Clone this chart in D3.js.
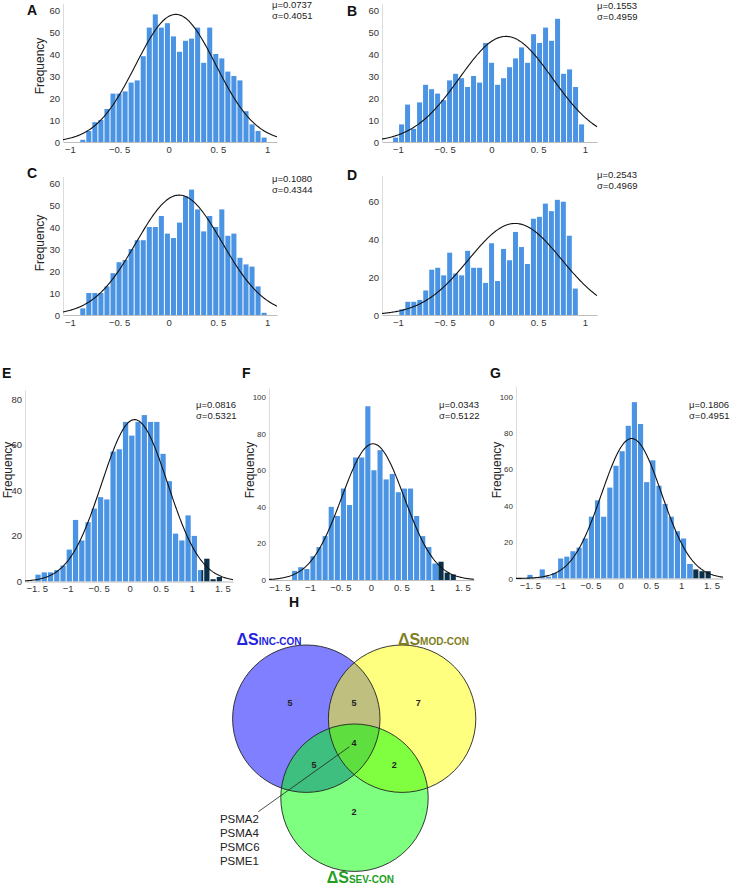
<!DOCTYPE html>
<html>
<head>
<meta charset="utf-8">
<script src="https://cdn.jsdelivr.net/npm/d3@7"></script>
<style>
  body { margin: 0; background: #fff; }
  text { font-family: "Liberation Sans", Arial, sans-serif; }
</style>
</head>
<body>
<div id="chart"></div>
<script>
// Histogram counts (one value per bin)
var countsA = [1,5,9,10,15,22,22,23,27,28,39,52,58,52,54,48,41,46,47,52,36,52,40,38,32,30,28,14,8,5,2];
var countsB = [2,8,17,6,18,26,24,22,19,28,31,29,25,30,27,45,36,26,29,34,38,43,36,49,45,52,46,56,31,33,25,8];
var countsC = [3,10,10,10,13,19,24,25,30,34,34,40,40,45,37,35,42,54,57,48,38,45,40,48,36,37,26,23,22,13,1];
var countsD = [3,7,7,8,13,24,25,21,33,22,21,34,25,25,17,38,18,35,29,44,36,27,51,52,59,55,61,60,42,14];
var countsE = [3,4,4,5,7,14,27,18,26,32,37,36,57,58,70,64,70,73,70,70,56,44,21,18,29,20,5,10,1,2];
var countsF = [5,7,6,13,18,24,40,35,50,41,67,67,95,60,71,55,58,48,50,50,35,24,18,9,10,4,3];
var countsG = [2,0,5,1,3,11,12,15,17,22,34,43,34,50,62,70,84,97,85,53,65,51,41,34,26,22,8,5,4,4];

// first bin edge and last bin edge for each panel
var rangeA = [-0.90, 1.00], rangeB = [-1.057, 0.997], rangeC = [-0.90, 1.00], rangeD = [-0.99, 0.93];
var rangeE = [-1.53, 1.50], rangeF = [-1.30, 1.40], rangeG = [-1.55, 1.495];

// fitted normal: mean, sd, peak height
var mu    = [0.0737, 0.1553, 0.1080, 0.2543, 0.0816, 0.0343, 0.1806];
var sigma = [0.4051, 0.4959, 0.4344, 0.4969, 0.5321, 0.5122, 0.4951];
var peak  = [58, 48, 54.5, 48.5, 71, 74.5, 77];

// bins above this value are highlighted
var thresholdE = 1.16, thresholdF = 1.10, thresholdG = 1.18;

// ticks
var xTicksSmall = [-1, -0.5, 0, 0.5, 1];
var xLabelsSmall = ["\u22121", "\u22120. 5", "0", "0. 5", "1"];
var xTicksWide = [-1.5, -1, -0.5, 0, 0.5, 1, 1.5];
var xLabelsWide = ["\u22121. 5", "\u22121", "\u22120. 5", "0", "0. 5", "1", "1. 5"];
var yTicks60 = [0, 10, 20, 30, 40, 50, 60];
var yTicksD = [0, 20, 40, 60];
var yTicksE = [0, 20, 40, 60, 80];
var yTicks100 = [0, 20, 40, 60, 80, 100];

// Venn
var vennCounts = [5, 5, 7, 4, 5, 2, 2];
var genes = ["PSMA2", "PSMA4", "PSMC6", "PSME1"];

var barColor = "#4b94e4", darkColor = "#0b3049";

var svg = d3.select("#chart").append("svg")
    .attr("width", 733)
    .attr("height", 885);

svg.append("rect").attr("width", 733).attr("height", 885).attr("fill", "#fff");

function drawHist(p) {
  var x = d3.scaleLinear().domain(p.xDomain).range([p.left, p.right]);
  var y = d3.scaleLinear().domain([0, p.yMax]).range([p.bottom, p.top]);
  var g = svg.append("g");
  var n = p.counts.length;
  var bw = (p.range[1] - p.range[0]) / n;
  var thr = p.threshold === undefined ? Infinity : p.threshold;

  p.counts.forEach(function(c, i) {
    if (c <= 0) return;
    var x0 = p.range[0] + i * bw, x1 = x0 + bw;
    if (x0 < thr) {
      g.append("rect")
        .attr("x", x(x0) + 0.5)
        .attr("y", y(c))
        .attr("width", Math.max(0, x(Math.min(x1, thr)) - x(x0) - (x1 <= thr ? 1 : 0)))
        .attr("height", y(0) - y(c))
        .attr("fill", barColor);
    }
    if (x1 > thr) {
      var s = Math.max(x0, thr);
      g.append("rect")
        .attr("x", x(s) + (s === x0 ? 0.5 : 0))
        .attr("y", y(c))
        .attr("width", x(x1) - x(s) - 1 + (s === x0 ? 0 : 0.5))
        .attr("height", y(0) - y(c))
        .attr("fill", darkColor);
    }
  });

  // x axis
  var xa = g.append("g")
      .attr("transform", "translate(0," + p.bottom + ")")
      .call(d3.axisBottom(x).tickValues(p.xTicks)
        .tickFormat(function(d, i) { return p.xLabels[i]; })
        .tickSize(0).tickPadding(4));
  xa.select(".domain").attr("stroke", "#bdbdbd");
  xa.selectAll("text").attr("fill", "#333").style("font-size", "9.5px");

  // y axis
  var ya = g.append("g")
      .attr("transform", "translate(" + p.left + ",0)")
      .call(d3.axisLeft(y).tickValues(p.yTicks).tickSize(0).tickPadding(3));
  ya.select(".domain").attr("stroke", "#dcdcdc");
  ya.selectAll("text").attr("fill", "#333").style("font-size", p.yFont || "9.5px");

  // normal curve
  var k = p.k;
  var pts = d3.range(0, 201).map(function(j) {
    return p.xDomain[0] + (p.xDomain[1] - p.xDomain[0]) * j / 200;
  });
  g.append("path")
    .datum(pts)
    .attr("fill", "none")
    .attr("stroke", "#111")
    .attr("stroke-width", 1.1)
    .attr("d", d3.line()
      .x(function(d) { return x(d); })
      .y(function(d) { return y(peak[k] * Math.exp(-Math.pow(d - mu[k], 2) / (2 * sigma[k] * sigma[k]))); }));

  // mu / sigma
  g.append("text").attr("x", p.statX).attr("y", p.statY - 1)
    .style("font-size", "9.5px").attr("fill", "#222")
    .text("\u03bc=" + mu[k].toFixed(4));
  g.append("text").attr("x", p.statX).attr("y", p.statY + 9.5)
    .style("font-size", "9.5px").attr("fill", "#222")
    .text("\u03c3=" + sigma[k].toFixed(4));

  // panel letter
  g.append("text").attr("x", p.letterX).attr("y", p.letterY)
    .style("font-size", "14px").style("font-weight", "bold").attr("fill", "#111")
    .text(p.letter);

  if (p.freqX !== undefined) {
    g.append("text")
      .attr("transform", "translate(" + p.freqX + "," + p.freqY + ") rotate(-90)")
      .attr("text-anchor", "middle")
      .attr("dominant-baseline", "central")
      .style("font-size", "12px").attr("fill", "#222")
      .text("Frequency");
  }
}

drawHist({k: 0, letter: "A", letterX: 27, letterY: 15, counts: countsA, range: rangeA,
  xDomain: [-1.07, 1.10], left: 63, right: 277, bottom: 142, top: 3.4, yMax: 63,
  xTicks: xTicksSmall, xLabels: xLabelsSmall, yTicks: yTicks60,
  statX: 272, statY: 9, freqX: 40, freqY: 66});
drawHist({k: 1, letter: "B", letterX: 347, letterY: 16, counts: countsB, range: rangeB,
  xDomain: [-1.17, 1.13], left: 382, right: 597, bottom: 142, top: 3.4, yMax: 63,
  xTicks: xTicksSmall, xLabels: xLabelsSmall, yTicks: yTicks60,
  statX: 597, statY: 10});
drawHist({k: 2, letter: "C", letterX: 27, letterY: 178, counts: countsC, range: rangeC,
  xDomain: [-1.07, 1.10], left: 63, right: 277, bottom: 315, top: 176.4, yMax: 63,
  xTicks: xTicksSmall, xLabels: xLabelsSmall, yTicks: yTicks60,
  statX: 272, statY: 183, freqX: 40, freqY: 243});
drawHist({k: 3, letter: "D", letterX: 347, letterY: 180, counts: countsD, range: rangeD,
  xDomain: [-1.17, 1.13], left: 382, right: 597, bottom: 315, top: 175.3, yMax: 74,
  xTicks: xTicksSmall, xLabels: xLabelsSmall, yTicks: yTicksD,
  statX: 597, statY: 179});
drawHist({k: 4, letter: "E", letterX: 2, letterY: 378, counts: countsE, range: rangeE, threshold: thresholdE,
  xDomain: [-1.69, 1.67], left: 25, right: 233, bottom: 581.5, top: 390, yMax: 84,
  xTicks: xTicksWide, xLabels: xLabelsWide, yTicks: yTicksE,
  statX: 196, statY: 409, freqX: 8, freqY: 470});
drawHist({k: 5, letter: "F", letterX: 242, letterY: 378, counts: countsF, range: rangeF, threshold: thresholdF,
  xDomain: [-1.67, 1.69], left: 269, right: 474, bottom: 580, top: 388, yMax: 105,
  xTicks: xTicksWide, xLabels: xLabelsWide, yTicks: yTicks100, yFont: "8px",
  statX: 439, statY: 409, freqX: 250, freqY: 470});
drawHist({k: 6, letter: "G", letterX: 490, letterY: 378, counts: countsG, range: rangeG, threshold: thresholdG,
  xDomain: [-1.73, 1.69], left: 516, right: 723, bottom: 578.5, top: 386.7, yMax: 105.5,
  xTicks: xTicksWide, xLabels: xLabelsWide, yTicks: yTicks100, yFont: "8px",
  statX: 689, statY: 409, freqX: 497, freqY: 470});

// ---- Venn diagram (unit = circle radius) ----
var R = 73.7;
var vx = d3.scaleLinear().domain([0, 1]).range([306.3, 306.3 + R]);
var vy = d3.scaleLinear().domain([0, 1]).range([718.7, 718.7 + R]);

var circles = [
  {cx: 0, cy: 0, fill: "#0000ff"},
  {cx: 1.30, cy: 0, fill: "#ffff00"},
  {cx: 0.654, cy: 1.072, fill: "#00ff00"}
];
var vg = svg.append("g");
vg.selectAll("circle.fill").data(circles).enter().append("circle")
  .attr("cx", function(d) { return vx(d.cx); })
  .attr("cy", function(d) { return vy(d.cy); })
  .attr("r", R)
  .attr("fill", function(d) { return d.fill; })
  .attr("fill-opacity", 0.5);
vg.selectAll("circle.edge").data(circles).enter().append("circle")
  .attr("cx", function(d) { return vx(d.cx); })
  .attr("cy", function(d) { return vy(d.cy); })
  .attr("r", R)
  .attr("fill", "none")
  .attr("stroke", "#222")
  .attr("stroke-width", 0.9);

var countPos = [[-0.22, -0.21], [0.647, -0.21], [1.52, -0.21], [0.647, 0.334], [0.104, 0.628], [1.194, 0.628], [0.647, 1.27]];
vg.selectAll("text.count").data(vennCounts).enter().append("text")
  .attr("x", function(d, i) { return vx(countPos[i][0]); })
  .attr("y", function(d, i) { return vy(countPos[i][1]); })
  .attr("text-anchor", "middle")
  .attr("dominant-baseline", "central")
  .style("font-size", "9px").style("font-weight", "bold").attr("fill", "#222")
  .text(function(d) { return d; });

// leader line to the triple overlap
vg.append("line")
  .attr("x1", vx(0.585)).attr("y1", vy(0.38))
  .attr("x2", vx(-0.651)).attr("y2", vy(1.262))
  .attr("stroke", "#222").attr("stroke-width", 0.8);

vg.selectAll("text.gene").data(genes).enter().append("text")
  .attr("x", vx(-1.172))
  .attr("y", function(d, i) { return vy(1.415 + i * 0.19); })
  .style("font-size", "11.5px").attr("fill", "#222")
  .text(function(d) { return d; });

// set names
var setLabels = [
  {sub: "INC-CON", x: -0.946, y: -1.0, color: "#2424e0"},
  {sub: "MOD-CON", x: 1.243, y: -1.0, color: "#7f7f22"},
  {sub: "SEV-CON", x: 0.277, y: 2.23, color: "#23a023"}
];
setLabels.forEach(function(s) {
  var t = vg.append("text")
    .attr("x", vx(s.x)).attr("y", vy(s.y))
    .attr("fill", s.color).style("font-weight", "bold");
  t.append("tspan").style("font-size", "16px").text("\u0394S");
  t.append("tspan").style("font-size", "10px").text(s.sub);
});

svg.append("text").attr("x", 289).attr("y", 607)
  .style("font-size", "14px").style("font-weight", "bold").attr("fill", "#111")
  .text("H");
</script>
</body>
</html>
